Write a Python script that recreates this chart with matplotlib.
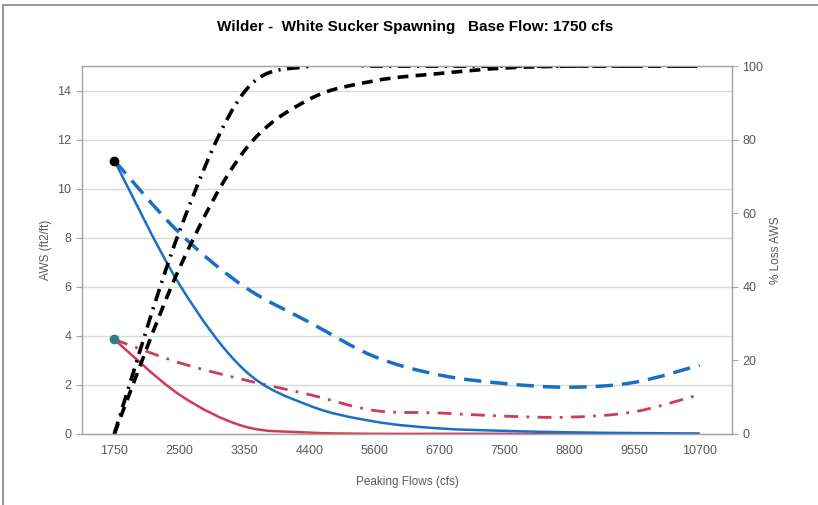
import numpy as np
import matplotlib
matplotlib.use("Agg")
from matplotlib import pyplot as plt
from matplotlib.path import Path
from matplotlib.patches import PathPatch
from matplotlib.lines import Line2D

plt.rcParams["font.family"] = ["Liberation Sans", "DejaVu Sans"]

# category axis
flows = ["1750", "2500", "3350", "4400", "5600", "6700", "7500", "8800", "9550", "10700"]

# AWS (ft2/ft), left axis
aws_blue_solid = [11.15, 6.1, 2.6, 1.15, 0.5, 0.22, 0.12, 0.06, 0.03, 0.01]
aws_blue_dashed = [11.15, 8.2, 6.0, 4.55, 3.15, 2.4, 2.05, 1.9, 2.1, 2.8]
aws_red_solid = [3.85, 1.6, 0.3, 0.05, 0.0, 0.0, 0.0, 0.0, 0.0, 0.0]
aws_red_dashdot = [3.85, 2.9, 2.2, 1.6, 0.95, 0.85, 0.72, 0.68, 0.9, 1.6]

# % Loss AWS, right axis
loss_dashdot = [0, 55, 93, 100, 100, 100, 100, 100, 100, 100]
loss_dashed = [0, 45, 77, 91, 96, 98, 99.5, 100, 100, 100]

BLUE = "#1a6fc4"
RED = "#cf3a58"
TEAL = "#2f7d8c"
GRID = "#d9d9d9"
TEXT = "#595959"


def smooth_path(xs, ys):
    # Excel style smoothed line: cubic bezier through every data point
    pts = np.column_stack([xs, ys]).astype(float)
    n = len(pts)
    verts = [pts[0]]
    codes = [Path.MOVETO]
    for i in range(n - 1):
        p0 = pts[i - 1] if i > 0 else pts[i]
        p1, p2 = pts[i], pts[i + 1]
        p3 = pts[i + 2] if i + 2 < n else p2
        verts += [p1 + (p2 - p0) / 6, p2 - (p3 - p1) / 6, p2]
        codes += [Path.CURVE4] * 3
    return Path(verts, codes)


def add_curve(ax, ys, color, lw, ls):
    xs = np.arange(len(ys))
    patch = PathPatch(smooth_path(xs, ys), facecolor="none", edgecolor=color,
                      lw=lw, linestyle=ls, capstyle="butt")
    ax.add_patch(patch)


fig = plt.figure(figsize=(8.18, 5.05), dpi=100)
ax = fig.add_axes([0.100, 0.141, 0.795, 0.728])
ax2 = ax.twinx()

x = np.arange(len(flows))

add_curve(ax, aws_blue_dashed, BLUE, 2.5, (0, (5, 2.6)))
add_curve(ax, aws_red_dashdot, RED, 2.0, (0, (5, 3, 1, 3)))
add_curve(ax, aws_red_solid, RED, 1.8, "-")
add_curve(ax, aws_blue_solid, BLUE, 1.8, "-")
ax.plot(x[0], aws_blue_solid[0], "o", color="black", ms=6, zorder=5)
ax.plot(x[0], aws_red_solid[0], "o", color=TEAL, ms=6, zorder=5)

add_curve(ax2, loss_dashed, "black", 2.6, (0, (3, 2)))
add_curve(ax2, loss_dashdot, "black", 2.6, (0, (3.5, 1.8, 0.6, 1.8)))

ax.set_xlim(-0.5, len(flows) - 0.5)
ax.set_ylim(0, 15)
ax2.set_ylim(0, 100)

ax.set_xticks(x)
ax.set_xticklabels(flows)
ax.set_yticks(np.arange(0, 15, 2))
ax2.set_yticks(np.arange(0, 101, 20))

ax.yaxis.grid(True, color=GRID, lw=1.0)
ax.set_axisbelow(True)
ax2.patch.set_visible(False)

for a in (ax, ax2):
    for s in a.spines.values():
        s.set_color("#a6a6a6")
        s.set_linewidth(0.9)
    a.tick_params(colors="#a6a6a6", labelcolor=TEXT, labelsize=9, length=4, width=0.8)
ax.tick_params(axis="x", length=0, pad=8)

ax.set_ylabel("AWS (ft2/ft)", fontsize=8.5, color=TEXT, labelpad=4)
ax2.set_ylabel("% Loss AWS", fontsize=8.5, color=TEXT, labelpad=5)
ax.set_xlabel("Peaking Flows (cfs)", fontsize=8.5, color=TEXT, labelpad=14)

fig.text(0.507, 0.947, "Wilder -  White Sucker Spawning   Base Flow: 1750 cfs",
         ha="center", va="center", fontsize=11, fontweight="bold")

# chart area border
fig.add_artist(Line2D([0.004, 0.004], [0.0, 0.99], color="#9a9a9a", lw=1.5))
fig.add_artist(Line2D([0.004, 1.0], [0.99, 0.99], color="#9a9a9a", lw=1.5))

fig.savefig("out.png", dpi=100)
